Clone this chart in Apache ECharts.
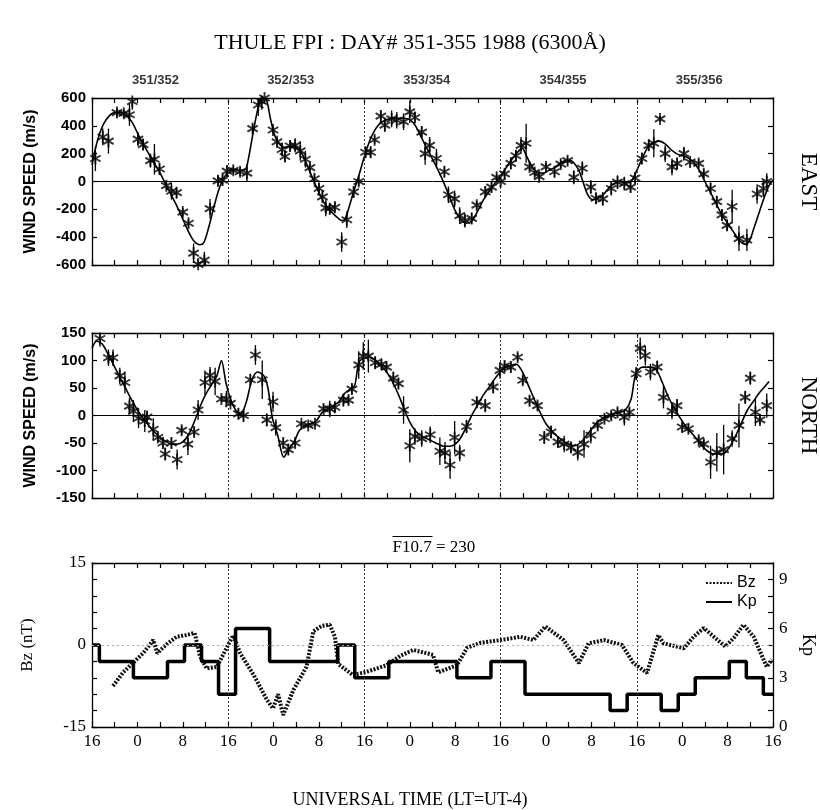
<!DOCTYPE html>
<html><head><meta charset="utf-8">
<script src="https://cdn.jsdelivr.net/npm/echarts@6/dist/echarts.min.js"></script>
<style>html,body{margin:0;padding:0;background:#fff}#c{width:820px;height:810px}</style>
</head><body><div id="c"></div><script>
// ---------- DATA ----------
// time axis: hours since day 351, 16 UT
var dayBoundaries = [24, 48, 72, 96];
var dayLabels = [[11.2, '351/352'], [35, '352/353'], [59, '353/354'], [83, '354/355'], [107, '355/356']];

// EAST wind observations [hour, m/s, error]
var eastObs = [
[0.6,165,90],[1.9,320,60],[2.9,290,90],[4.4,495,30],[5.6,490,30],[6.6,480,80],[7.1,575,60],[8.1,305,50],
[9.0,265,40],[10.3,150,50],[11.0,160,110],[11.9,90,40],[13.1,-30,30],[14.0,-70,60],[14.9,-80,40],[16.0,-220,30],
[17.0,-300,30],[17.9,-515,70],[18.7,-595,40],[19.8,-565,60],[20.8,-195,70],[22.2,5,40],[23.0,10,40],[23.8,75,40],
[24.9,80,30],[26.1,70,30],[27.3,60,60],[28.3,380,30],[29.3,550,80],[29.9,575,60],[30.4,600,30],[31.9,370,30],
[32.6,285,30],[33.5,230,50],[34.0,180,40],[34.9,255,40],[35.8,260,50],[36.7,220,70],[37.6,160,60],[38.4,100,30],
[39.2,20,30],[40.0,-50,40],[40.6,-110,40],[41.2,-190,60],[41.9,-195,40],[42.8,-185,40],[44.0,-435,70],[44.9,-275,60],
[46.1,-75,40],[47.0,0,30],[48.2,210,40],[49.1,210,40],[49.8,300,30],[50.9,470,40],[51.6,405,50],[52.8,450,60],
[53.7,440,60],[54.9,430,60],[56.0,500,80],[56.9,460,40],[58.1,355,40],[58.7,200,80],[59.5,260,60],[60.7,165,70],
[62.1,70,40],[62.8,-95,60],[63.9,-125,60],[64.8,-245,60],[65.7,-280,50],[66.9,-265,40],[67.8,-170,30],[69.3,-75,40],
[70.4,-40,40],[71.3,30,30],[72.0,0,40],[72.7,55,30],[73.8,130,40],[74.7,185,40],[75.6,260,60],[76.5,275,140],
[77.1,105,30],[78.0,65,30],[78.8,35,30],[80.0,105,30],[81.5,70,40],[82.6,125,30],[83.8,150,30],[84.9,30,50],
[86.4,95,50],[87.9,-40,50],[88.8,-120,40],[90.0,-125,50],[91.5,-50,50],[92.6,-5,50],[93.8,-15,50],[94.9,-40,40],
[95.7,25,40],[96.9,165,40],[98.1,260,40],[99.0,275,100],[100.1,450,20],[101.0,200,60],[102.2,105,60],[103.1,130,40],
[104.3,200,50],[105.4,140,30],[106.9,130,30],[107.8,55,30],[109.0,-50,40],[110.1,-145,40],[111.0,-240,40],[111.9,-315,40],
[112.8,-180,120],[114.0,-410,90],[115.4,-420,80],[117.2,-90,70],[118.3,-50,60],[118.9,0,60]
];
// EAST fitted curve [hour, m/s]
var eastFit = [
[0,120],[1,300],[2,410],[3,470],[4,495],[5,495],[6,475],[7,430],[8,350],[9,270],[10,200],[11,130],[12,60],[13,-20],
[14,-100],[15,-180],[16,-270],[17,-360],[18,-430],[19,-455],[19.7,-440],[20.5,-340],[21.5,-180],[22.5,-40],[23.3,30],
[24,70],[25,85],[26,80],[27,85],[27.5,150],[28.3,330],[29,480],[29.6,580],[30.2,610],[30.8,580],[31.5,440],[32.3,320],
[33,270],[34,245],[35,255],[36,245],[37,200],[38,110],[39,10],[40,-80],[41,-160],[42,-210],[43,-250],[44,-280],
[44.6,-270],[45.4,-170],[46.2,-60],[47,40],[48,180],[49,300],[50,380],[51,425],[52,445],[53,455],[54,455],[55,455],
[56,445],[57,400],[58,320],[59,240],[60,160],[61,80],[62,-10],[63,-110],[64,-210],[65,-275],[66,-300],[67,-280],
[68,-210],[69,-130],[70,-70],[71,-10],[72,40],[73,100],[74,160],[75,210],[75.8,240],[76.6,180],[77.5,110],[78.5,65],
[79.5,60],[80.5,80],[81.5,100],[82.5,130],[83.5,150],[84.3,150],[85,130],[85.8,80],[86.5,0],[87.3,-90],[88.2,-130],
[89.2,-120],[90.2,-90],[91.2,-40],[92.2,-10],[93.2,0],[94.2,-10],[95,0],[96,80],[97,170],[98,250],[99,280],[100,290],
[101,270],[102,230],[103,200],[104,185],[105,170],[106,140],[107,80],[108,0],[109,-80],[110,-160],[111,-240],[112,-300],
[113,-360],[114,-420],[115,-450],[115.8,-430],[116.6,-340],[117.5,-230],[118.5,-110],[119.3,-30],[120,10]
];

// NORTH wind observations [hour, m/s, error]
var northObs = [
[1.4,140,15],[2.9,105,15],[3.7,105,15],[4.9,72,15],[5.8,60,20],[6.6,17,15],[7.3,8,20],[8.2,-5,18],[9.3,-10,20],
[9.7,-3,12],[10.8,-25,20],[11.6,-40,8],[12.5,-50,10],[12.9,-70,12],[14.0,-50,10],[15.0,-80,18],[15.8,-27,8],
[16.9,-52,20],[18.0,-30,8],[18.7,10,18],[19.9,60,22],[20.8,73,15],[21.7,62,25],[22.8,30,5],[23.7,30,15],[24.4,22,5],
[25.8,3,10],[26.7,0,12],[27.9,65,10],[28.8,110,18],[30.0,65,35],[30.8,-8,12],[31.9,25,18],[32.4,-22,15],[33.7,-50,8],
[34.6,-62,10],[35.8,-50,8],[36.9,-15,5],[38.1,-18,5],[39.3,-15,5],[40.8,12,8],[41.9,12,15],[42.8,15,10],[44.3,28,12],
[45.2,28,8],[45.8,48,10],[47.0,92,25],[47.8,108,25],[48.7,108,30],[49.9,96,12],[51.0,93,10],[51.9,88,8],[53.1,68,12],
[54.0,58,10],[54.9,10,25],[56.0,-55,30],[56.9,-38,15],[58.1,-42,15],[59.6,-35,15],[61.3,-65,25],[62.2,-68,20],
[63.1,-90,25],[63.9,-40,30],[64.8,-68,15],[66.0,-20,12],[67.8,24,10],[69.3,18,12],[70.7,52,12],[71.9,82,15],
[72.7,90,10],[73.8,88,10],[75.0,106,8],[75.9,64,8],[77.1,27,10],[78.5,18,8],[79.7,-40,12],[80.9,-30,12],[82.1,-48,10],
[83.2,-52,15],[84.4,-58,10],[85.6,-67,15],[86.7,-52,25],[87.9,-36,15],[89.1,-18,8],[90.3,-6,8],[91.5,0,8],[92.6,6,8],
[93.8,-3,15],[94.7,6,8],[95.9,76,12],[96.6,122,20],[97.5,109,18],[98.4,79,15],[99.6,88,12],[100.7,33,20],[102.2,8,15],
[103.1,18,12],[104.0,-21,10],[105.1,-24,8],[106.9,-45,8],[107.8,-52,8],[109.0,-85,30],[110.1,-67,35],[111.3,-62,45],
[112.8,-42,15],[114.0,-18,40],[115.1,33,12],[116.0,68,12],[116.9,6,25],[117.7,-8,8],[118.9,18,22]
];
// NORTH fitted curve [hour, m/s]
var northFit = [
[0,122],[0.8,135],[1.8,130],[3,108],[4,88],[5,68],[6,48],[7,28],[8,10],[9,-5],[10,-18],[11,-30],[12,-40],[13,-47],
[14,-52],[15,-52],[16,-48],[17,-35],[18,-12],[19,15],[20,38],[21,55],[22,72],[22.8,100],[23.6,60],[24.4,30],[25.3,10],
[26.2,2],[27.2,25],[28.2,65],[29.2,79],[30.3,72],[31,50],[31.8,-5],[32.7,-35],[33.8,-76],[34.6,-62],[35.6,-48],
[36.5,-28],[37.5,-18],[38.5,-15],[39.5,-10],[40.5,5],[41.5,12],[42.5,18],[43.5,25],[44.5,40],[45.5,48],[46.3,55],
[47,95],[48,105],[49,106],[50,100],[51,90],[52,78],[53,60],[54,38],[55,12],[56,-12],[57,-28],[58,-37],[59,-42],
[60,-47],[61,-52],[62,-56],[63,-56],[64,-52],[65,-40],[66,-20],[67,2],[68,20],[69,38],[70,52],[71,67],[72,80],
[73,88],[74,92],[74.8,93],[75.8,80],[77,52],[78,28],[79,5],[80,-15],[81,-28],[82,-38],[83,-46],[84,-52],[85,-55],
[86,-50],[87,-38],[88,-25],[89,-12],[90,-5],[91,0],[92,4],[93,6],[94,10],[95,30],[95.8,75],[97,88],[98.5,88],
[99.5,82],[100.5,60],[101.5,35],[102.5,15],[103.5,-2],[104.5,-18],[105.5,-30],[106.5,-42],[107.5,-55],[108.5,-65],
[109.5,-70],[110.5,-70],[111.5,-68],[112.5,-55],[113.5,-35],[114.5,-12],[115.5,10],[116.5,25],[117.5,40],[118.5,52],[119.3,62]
];

// IMF Bz [hour, nT]
var bzData = [
[3.7,-7.5],[5.5,-5],[7.3,-3.2],[9,-1.5],[10.8,0.9],[11.5,-1.5],[13,0],[14.9,1.5],[16.5,1.8],[18.1,2.2],[19,-2],
[20.2,-4.3],[22,-4],[23.5,-1],[24.9,1.8],[26.1,-1.5],[28.5,-5.5],[30.8,-10],[31.9,-11.6],[32.8,-9],[33.7,-12.8],
[35.5,-8.2],[37.8,-4],[39,2.5],[40.5,3.5],[41.9,3.7],[42.8,1.5],[43.4,-3.5],[46,-5.5],[48.4,-4.9],[51.9,-3.7],
[54.3,-2],[56.6,-0.9],[60.1,-1.8],[61,-5],[64.3,-3.7],[66.1,-0.5],[68.5,0.4],[72,0.9],[75.5,1.5],[77.8,0.9],
[79.9,3.4],[83.1,0.9],[85.8,-3.3],[87.5,0.3],[90.2,0.9],[93.4,0],[95.4,-3.3],[97.8,-5.1],[99.8,1.8],[100.7,0.3],
[104.3,-0.6],[106,1.5],[107.8,3.1],[111.6,-0.3],[113.1,1.3],[114.8,3.7],[116.6,1.5],[118.9,-4],[119.8,-2.7]
];
// Kp step values: start hour of each level, level
var kpStart = [0, 1.3, 7.3, 13.3, 16.3, 19.3, 22.3, 25.3, 31.3, 43.3, 46.3, 52.3, 64.3, 70.3, 76.3, 91.3, 94.3, 100.3, 103.3, 106.3, 112.3, 115.3, 118.3, 120];
var kpLevel = [5, 4, 3, 4, 5, 4, 2, 6, 4, 5, 3, 4, 3, 4, 2, 1, 2, 1, 2, 3, 4, 3, 2, 2];

var xTickLabels = ['16', '0', '8'];
var titleText = 'THULE FPI : DAY# 351-355 1988 (6300\u00C5)';
var xAxisTitle = 'UNIVERSAL TIME (LT=UT-4)';
var fluxName = 'F10.7', fluxValue = '230';

// ---------- CHART ----------
var SERIF = 'Liberation Serif, Times New Roman, serif';
var SANS = 'Liberation Sans, Arial, sans-serif';
var chart = echarts.init(document.getElementById('c'), null, {renderer: 'canvas'});

var kpData = kpStart.map(function (h, i) { return [h, kpLevel[i]]; });
var STAR = 'path://M0,-6L0,6M-5.2,-3L5.2,3M-5.2,3L5.2,-3';

function xAx(grid, pos, labels) {
  return {
    type: 'value', gridIndex: grid, position: pos, min: 0, max: 120, interval: 4,
    axisLine: {show: true, onZero: false, lineStyle: {color: '#000', width: 1.3}},
    axisTick: {show: true, inside: true, length: 5, lineStyle: {color: '#000', width: 1.2}},
    axisLabel: {show: labels, margin: 6, fontFamily: SERIF, fontSize: 17, color: '#000',
      formatter: function (v) { return v % 8 === 0 ? xTickLabels[(v / 8) % 3] : ''; }},
    splitLine: {show: false}
  };
}
function yAx(grid, pos, min, max, itv, labelFn, font, name, nameOpts) {
  var o = {
    type: 'value', gridIndex: grid, position: pos, min: min, max: max, interval: itv,
    axisLine: {show: true, onZero: false, lineStyle: {color: '#000', width: 1.3}},
    axisTick: {show: true, inside: true, length: 5, lineStyle: {color: '#000', width: 1.2}},
    axisLabel: labelFn ? {show: true, margin: 6, color: '#000', fontFamily: font.family, fontSize: font.size, fontWeight: font.weight || 'normal', formatter: labelFn} : {show: false},
    splitLine: {show: false}
  };
  if (name) {
    o.name = name; o.nameLocation = 'middle';
    for (var k in nameOpts) o[k] = nameOpts[k];
  }
  return o;
}
var windLabelFont = {family: SANS, size: 15, weight: 'bold'};
var windName = {nameRotate: 90, nameGap: 53, nameTextStyle: {fontFamily: SANS, fontSize: 16, fontWeight: 'bold', color: '#000'}};
var sideName = {nameRotate: -90, nameGap: 24, nameTextStyle: {fontFamily: SERIF, fontSize: 23, color: '#000'}};

function errRender(params, api) {
  var x = api.value(0), y = api.value(1), e = api.value(2);
  var p1 = api.coord([x, y - e]), p2 = api.coord([x, y + e]);
  return {type: 'line', shape: {x1: p1[0], y1: p1[1], x2: p2[0], y2: p2[1]}, style: {stroke: '#000', lineWidth: 1.3}};
}
function boundaryLines(withZero, zeroStyle) {
  var d = dayBoundaries.map(function (h) { return {xAxis: h, lineStyle: {type: [2, 2], color: '#333', width: 1}}; });
  if (withZero) d.push({yAxis: 0, lineStyle: zeroStyle});
  return {silent: true, symbol: ['none', 'none'], label: {show: false}, data: d, animation: false};
}

var option = {
  animation: false,
  backgroundColor: '#fff',
  title: [
    {text: titleText, left: 'center', top: 27, textStyle: {fontFamily: SERIF, fontSize: 22, fontWeight: 'normal', color: '#000'}},
    {text: xAxisTitle, left: 'center', top: 786, textStyle: {fontFamily: SERIF, fontSize: 18, fontWeight: 'normal', color: '#000'}}
  ],
  graphic: [
    {type: 'group', left: 390, top: 534, children: [
      {type: 'text', style: {text: fluxName + ' = ' + fluxValue, font: '17px ' + SERIF, fill: '#000', x: 0, y: 4}},
      {type: 'line', shape: {x1: 0, y1: 1, x2: 40, y2: 1}, style: {stroke: '#000', lineWidth: 1}}
    ]}
  ],
  legend: {
    data: ['Bz', 'Kp'], orient: 'vertical', left: 700, top: 570, itemGap: 3, itemWidth: 26, itemHeight: 10,
    itemStyle: {opacity: 0},
    textStyle: {fontFamily: SANS, fontSize: 16, color: '#000'}, selectedMode: false
  },
  grid: [
    {left: 92, right: 47, top: 98, height: 167, outerBoundsMode: 'none'},
    {left: 92, right: 47, top: 333, height: 165, outerBoundsMode: 'none'},
    {left: 92, right: 47, top: 563, height: 164, outerBoundsMode: 'none'}
  ],
  xAxis: [xAx(0, 'bottom', false), xAx(0, 'top', false), xAx(1, 'bottom', false), xAx(1, 'top', false), xAx(2, 'bottom', true), xAx(2, 'top', false)],
  yAxis: [
    yAx(0, 'left', -600, 600, 200, function (v) { return v; }, windLabelFont, 'WIND SPEED (m/s)', windName),
    yAx(0, 'right', -600, 600, 200, null, null, 'EAST', sideName),
    yAx(1, 'left', -150, 150, 50, function (v) { return v; }, windLabelFont, 'WIND SPEED (m/s)', windName),
    yAx(1, 'right', -150, 150, 50, null, null, 'NORTH', sideName),
    yAx(2, 'left', -15, 15, 3, function (v) { return v % 15 === 0 ? v : ''; }, {family: SERIF, size: 17}, 'Bz (nT)',
      {nameRotate: 90, nameGap: 56, nameTextStyle: {fontFamily: SERIF, fontSize: 17, color: '#000'}}),
    yAx(2, 'right', 0, 10, 1, function (v) { return v % 3 === 0 && v < 10 ? v : ''; }, {family: SERIF, size: 17}, 'Kp',
      {nameRotate: -90, nameGap: 26, nameTextStyle: {fontFamily: SERIF, fontSize: 18, color: '#000'}})
  ],
  series: [
    // EAST
    {type: 'line', name: 'eastFit', xAxisIndex: 0, yAxisIndex: 0, data: eastFit, smooth: 0.3, symbol: 'none', clip: true,
      lineStyle: {color: '#000', width: 1.6}, markLine: boundaryLines(true, {type: 'solid', color: '#000', width: 1})},
    {type: 'custom', name: 'eastErr', xAxisIndex: 0, yAxisIndex: 0, data: eastObs, renderItem: errRender, clip: true},
    {type: 'scatter', name: 'eastObs', xAxisIndex: 0, yAxisIndex: 0, data: eastObs, symbol: STAR, symbolSize: 12, symbolKeepAspect: true, clip: true,
      itemStyle: {color: 'rgba(0,0,0,0)', borderColor: '#000', borderWidth: 1.9}},
    {type: 'scatter', name: 'days', xAxisIndex: 0, yAxisIndex: 0, silent: true,
      data: dayLabels.map(function (d) { return {value: [d[0], 600], name: d[1]}; }), symbolSize: 0, clip: false,
      label: {show: true, position: 'top', distance: 11, formatter: '{b}', fontFamily: SANS, fontSize: 13, fontWeight: 'bold', color: '#000'}},
    // NORTH
    {type: 'line', name: 'northFit', xAxisIndex: 2, yAxisIndex: 2, data: northFit, smooth: 0.3, symbol: 'none', clip: true,
      lineStyle: {color: '#000', width: 1.6}, markLine: boundaryLines(true, {type: 'solid', color: '#000', width: 1})},
    {type: 'custom', name: 'northErr', xAxisIndex: 2, yAxisIndex: 2, data: northObs, renderItem: errRender, clip: true},
    {type: 'scatter', name: 'northObs', xAxisIndex: 2, yAxisIndex: 2, data: northObs, symbol: STAR, symbolSize: 12, symbolKeepAspect: true, clip: true,
      itemStyle: {color: 'rgba(0,0,0,0)', borderColor: '#000', borderWidth: 1.9}},
    // Bz / Kp
    {type: 'line', name: 'Bz', xAxisIndex: 4, yAxisIndex: 4, data: bzData, symbol: 'none', clip: true,
      lineStyle: {color: '#111', width: 4, type: [2, 1.5]}, itemStyle: {color: '#111'},
      markLine: boundaryLines(true, {type: [2, 3], color: '#aaa', width: 1})},
    {type: 'line', name: 'Kp', xAxisIndex: 4, yAxisIndex: 5, data: kpData, step: 'end', symbol: 'none', clip: true,
      lineStyle: {color: '#000', width: 3.5}, itemStyle: {color: '#000'}}
  ]
};
chart.setOption(option);
</script></body></html>
